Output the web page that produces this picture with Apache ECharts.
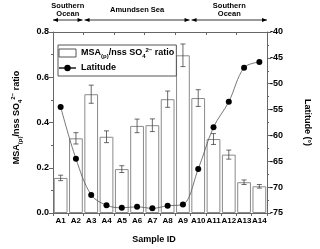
<!DOCTYPE html>
<html><head><meta charset="utf-8">
<script src="https://cdn.jsdelivr.net/npm/echarts@6/dist/echarts.min.js"></script>
<style>html,body{margin:0;padding:0;background:#fff}#c{width:320px;height:249px}</style>
</head><body><div id="c"></div>
<script>
const categories = ['A1','A2','A3','A4','A5','A6','A7','A8','A9','A10','A11','A12','A13','A14'];
const ratioValues = [0.155,0.330,0.525,0.337,0.194,0.385,0.388,0.503,0.697,0.508,0.327,0.258,0.136,0.118];
const ratioErrors = [0.012,0.025,0.040,0.026,0.015,0.030,0.028,0.036,0.050,0.037,0.024,0.020,0.010,0.008];
const latitudeValues = [-54.5,-64.5,-71.5,-73.5,-74.0,-73.8,-74.1,-73.6,-73.35,-66.5,-58.4,-53.5,-46.9,-45.8];
const leftTicks = [0, 0.8, 0.2];
const rightTicks = [-75, -40, 5];
const regions = [
  {name:'Southern\nOcean', from:0, to:1},
  {name:'Amundsen Sea', from:2, to:8},
  {name:'Southern\nOcean', from:9, to:13}
];

const axisColor = '#666';
const font = 'Arial, "Liberation Sans", sans-serif';
const chart = echarts.init(document.getElementById('c'), null, {renderer:'canvas'});
const errData = ratioValues.map((v,i)=>[i, v - ratioErrors[i], v + ratioErrors[i]]);

chart.setOption({
  animation:false,
  backgroundColor:'#fff',
  textStyle:{fontFamily:font},
  grid:{left:53, right:47, top:32, bottom:35},
  legend:{
    orient:'vertical', left:58, top:45, padding:[2,2,2,0], itemGap:3,
    borderColor:'#555', borderWidth:1, itemWidth:17, itemHeight:8,
    data:[{name:'ratio', icon:'rect', itemStyle:{color:'#fff', borderColor:'#555', borderWidth:1}}, {name:'Latitude'}],
    formatter: n => n==='ratio' ? 'MSA{sub|(p)}/nss SO{sub|4}{sup|2−} ratio' : 'Latitude',
    textStyle:{fontSize:9, fontWeight:'bold', color:'#000', lineHeight:12,
      rich:{sub:{fontSize:6, fontWeight:'bold', verticalAlign:'bottom', lineHeight:8},
            sup:{fontSize:6, fontWeight:'bold', verticalAlign:'top', lineHeight:8}}}
  },
  xAxis:[{
    type:'category', data:categories, position:'bottom',
    axisLine:{lineStyle:{color:axisColor}},
    axisTick:{show:true, length:3, lineStyle:{color:axisColor}},
    axisLabel:{fontSize:8, fontWeight:'bold', color:'#000', margin:4, interval:0},
    name:'Sample ID', nameLocation:'middle', nameGap:22,
    nameTextStyle:{fontSize:9, fontWeight:'bold', color:'#000', padding:[0,12,0,0]}
  },{
    type:'category', data:categories, position:'top',
    axisLine:{lineStyle:{color:axisColor}},
    axisTick:{show:true, inside:true, length:3, lineStyle:{color:axisColor}},
    axisLabel:{show:false}
  }],
  yAxis:[{
    type:'value', min:leftTicks[0], max:leftTicks[1], interval:leftTicks[2],
    axisLine:{show:true, lineStyle:{color:axisColor}},
    axisTick:{show:true, length:4, lineStyle:{color:axisColor}},
    minorTick:{show:true, splitNumber:2, length:2, lineStyle:{color:axisColor}},
    splitLine:{show:false},
    axisLabel:{fontSize:9, fontWeight:'bold', color:'#000', margin:4, formatter:v=>v.toFixed(1)},
    name:'MSA{sub|(p)}/nss SO{sub|4}{sup|2−} ratio', nameLocation:'middle', nameGap:30,
    nameTextStyle:{fontSize:9, fontWeight:'bold', color:'#000', lineHeight:13, padding:[0,0,0,10],
      rich:{sub:{fontSize:6, fontWeight:'bold', verticalAlign:'bottom', lineHeight:8},
            sup:{fontSize:6, fontWeight:'bold', verticalAlign:'top', lineHeight:8}}}
  },{
    type:'value', min:rightTicks[0], max:rightTicks[1], interval:rightTicks[2], position:'right',
    axisLine:{show:true, lineStyle:{color:axisColor}},
    axisTick:{show:true, length:4, lineStyle:{color:axisColor}},
    minorTick:{show:true, splitNumber:2, length:2, lineStyle:{color:axisColor}},
    splitLine:{show:false},
    axisLabel:{fontSize:9, fontWeight:'bold', color:'#000', margin:3},
    name:'Latitude (°)', nameLocation:'middle', nameGap:36, nameRotate:-90,
    nameTextStyle:{fontSize:9, fontWeight:'bold', color:'#000', padding:[0,0,0,0]}
  }],
  series:[{
    name:'ratio', type:'bar', data:ratioValues, xAxisIndex:0, yAxisIndex:0,
    barCategoryGap:'10%',
    itemStyle:{color:'#fff', borderColor:'#8a8a8a', borderWidth:1}
  },{
    name:'err', type:'custom', xAxisIndex:0, yAxisIndex:0, data:errData, z:5,
    renderItem:(params, api)=>{
      const lo = api.coord([api.value(0), api.value(1)]);
      const hi = api.coord([api.value(0), api.value(2)]);
      const hw = 2.5;
      const st = {stroke:'#444', lineWidth:0.8};
      return {type:'group', children:[
        {type:'line', shape:{x1:lo[0],y1:lo[1],x2:hi[0],y2:hi[1]}, style:st},
        {type:'line', shape:{x1:lo[0]-hw,y1:lo[1],x2:lo[0]+hw,y2:lo[1]}, style:st},
        {type:'line', shape:{x1:hi[0]-hw,y1:hi[1],x2:hi[0]+hw,y2:hi[1]}, style:st}
      ]};
    }
  },{
    name:'Latitude', type:'line', data:latitudeValues, xAxisIndex:0, yAxisIndex:1,
    smooth:0.35, symbol:'circle', symbolSize:6, z:6,
    lineStyle:{color:'#555', width:0.8},
    itemStyle:{color:'#000'}
  }]
});

// region annotations above the plot, positioned from the category axis
const c0 = chart.convertToPixel({xAxisIndex:0}, 0);
const c1 = chart.convertToPixel({xAxisIndex:0}, 1);
const band = c1 - c0;
const topY = chart.convertToPixel({yAxisIndex:0}, leftTicks[1]);
const arrowY = topY - 12;
const g = [];
regions.forEach((r, k)=>{
  const x1 = chart.convertToPixel({xAxisIndex:0}, r.from) - band/2 + (k>0?1:0);
  const x2 = chart.convertToPixel({xAxisIndex:0}, r.to) + band/2 - (k<regions.length-1?1:0);
  g.push({type:'line', shape:{x1:x1, y1:arrowY, x2:x2, y2:arrowY}, style:{stroke:'#000', lineWidth:0.8}});
  g.push({type:'polygon', shape:{points:[[x1,arrowY],[x1+5,arrowY-2],[x1+5,arrowY+2]]}, style:{fill:'#000'}});
  g.push({type:'polygon', shape:{points:[[x2,arrowY],[x2-5,arrowY-2],[x2-5,arrowY+2]]}, style:{fill:'#000'}});
  g.push({type:'text', x:(x1+x2)/2, y:arrowY - 10, style:{text:r.name, fill:'#000', font:'bold 7.5px ' + font, align:'center', verticalAlign:'middle', lineHeight:8}});
});
chart.setOption({graphic:g});
</script>
</body></html>
